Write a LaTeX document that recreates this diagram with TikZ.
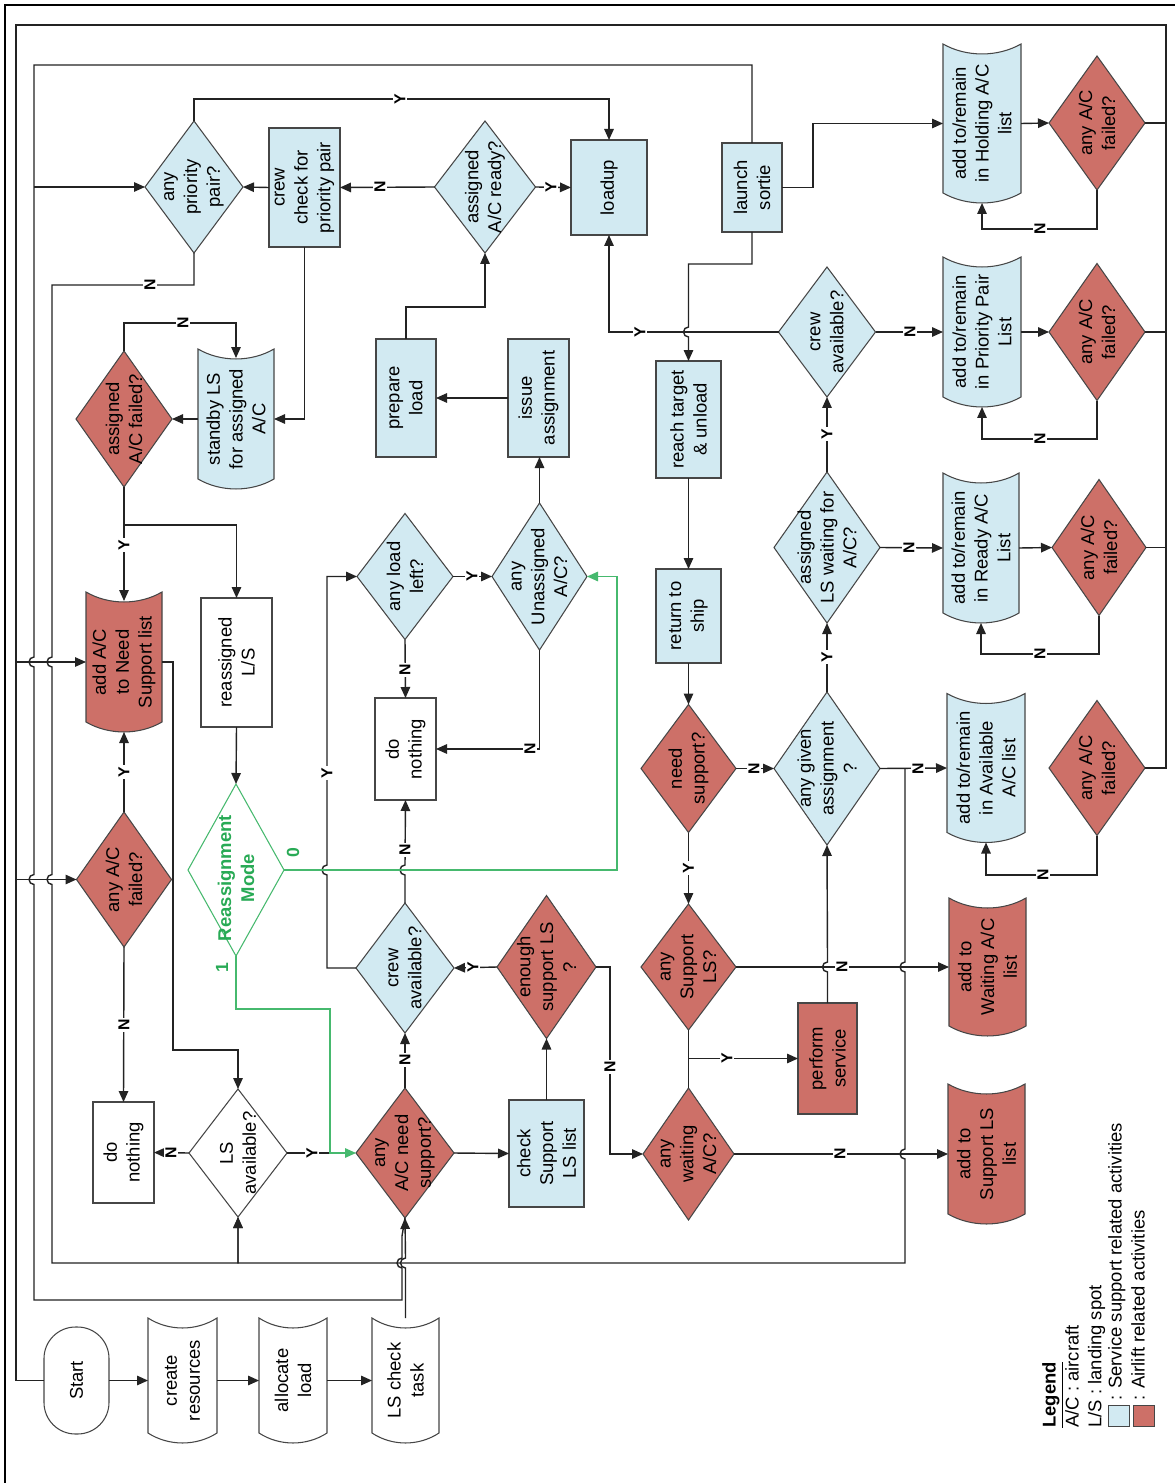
\documentclass[tikz,border=0pt]{standalone}
\usepackage{fontspec}
\setmainfont{Liberation Sans}
\usetikzlibrary{shapes.geometric,arrows.meta,calc}
\pgfdeclarelayer{bg}
\pgfsetlayers{bg,main}
\definecolor{blu}{RGB}{210,234,242}
\definecolor{redf}{RGB}{205,112,104}
\definecolor{shapec}{RGB}{70,70,70}
\definecolor{linec}{RGB}{35,35,35}
\definecolor{grnl}{RGB}{70,185,110}
\definecolor{grnt}{RGB}{40,170,85}
\newcommand\nfont{\fontsize{10.5}{13}\selectfont}
\newcommand\lfont{\fontsize{9}{10}\selectfont\bfseries}
\tikzset{
  sz/.style 2 args={minimum width=#1*0.02cm,minimum height=#2*0.02cm},
  base/.style={inner sep=0pt,outer sep=0pt,draw=shapec,line width=0.6pt},
  dia/.style={base,diamond},
  box/.style={base,rectangle},
  lst/.style={rectangle,inner sep=0pt,outer sep=0pt,draw=none},
  txt/.style={rotate=90,align=center,font=\nfont,inner sep=0pt},
  con/.style={draw=linec,line width=0.8pt},
  arr/.style={con,-{Triangle[length=2.2mm,width=1.9mm]}},
  grnarr/.style={draw=grnl,line width=0.8pt,-{Triangle[length=2.2mm,width=1.9mm]}},
  lab/.style={rotate=90,font=\lfont,fill=white,inner sep=1pt},
  glab/.style={rotate=90,font=\fontsize{10}{12}\selectfont\bfseries,text=grnt,inner sep=0pt},
}
\newcommand\Shp[6]{\node[#1,fill=#2,sz=#5] (#3) at (#4) {};\node[txt] (#3-t) at (#3) {#6};}
\newcommand\Lst[5]{\node[lst,sz=#4] (#2) at (#3) {};
 \begin{pgfonlayer}{bg}\path[draw=shapec,line width=0.6pt,fill=#1] (#2.north west) .. controls ($(#2.north west)!0.3!(#2.north east)+(0,13.3)$) and ($(#2.north west)!0.7!(#2.north east)+(0,13.3)$) .. (#2.north east) -- ($(#2.south east)+(0,-10)$) .. controls ($(#2.south east)!0.3!(#2.south west)+(0,3.3)$) and ($(#2.south east)!0.7!(#2.south west)+(0,3.3)$) .. ($(#2.south west)+(0,-10)$) -- cycle;\end{pgfonlayer}
 \node[txt] (#2-t) at (#2) {#5};}
\begin{document}
\begin{tikzpicture}[x=0.02cm,y=-0.02cm]
\useasboundingbox (0,0) rectangle (1175,1483);
\begin{pgfonlayer}{bg}
\fill[white] (0,0) rectangle (1175,1483);
\end{pgfonlayer}
\draw[black,line width=1.3pt] (5,1483) -- (5,5) -- (1175,5);

% ---- shapes ----
\Shp{dia}{blu}{pp}{194,187}{{98}{132}}{any\\priority\\pair?}
\Shp{box}{blu}{ccp}{304.5,187.5}{{71}{119}}{crew\\check for\\priority pair}
\Shp{dia}{blu}{acr}{485,187}{{101}{132}}{assigned\\A/C ready?}
\Shp{box}{blu}{loadup}{609,187.5}{{76}{95}}{loadup}
\Shp{box}{blu}{ls}{752,187.5}{{60}{89}}{launch\\sortie}
\Lst{blu}{hold}{982,123.5}{{78}{159}}{add to/remain\\in Holding A/C\\list}
\Shp{dia}{redf}{f1}{1097,123}{{96}{134}}{any A/C\\failed?}
\Shp{dia}{redf}{acf}{124,419}{{96}{136}}{assigned\\A/C failed?}
\Lst{blu}{stb}{236,419}{{76}{140}}{standby LS\\for assigned\\A/C}
\Shp{box}{blu}{prep}{406,398}{{60}{118}}{prepare\\load}
\Shp{box}{blu}{issue}{538.5,398}{{61}{118}}{issue\\assignment}
\Shp{box}{blu}{rtu}{688.5,419.5}{{65}{117}}{reach target\\\& unload}
\Shp{dia}{blu}{crew1}{827,332}{{97}{130}}{crew\\available?}
\Lst{blu}{pplist}{982,332}{{78}{150}}{add to/remain\\in Priority Pair\\List}
\Shp{dia}{redf}{f2}{1097,332}{{96}{137}}{any A/C\\failed?}
\Shp{dia}{blu}{ls2}{405,576.5}{{96}{126}}{any load\\left?}
\Shp{dia}{blu}{una}{539.5,576.5}{{95}{147}}{any\\Unassigned\\A/C?}
\Shp{box}{blu}{rts}{688.5,616}{{65}{94}}{return to\\ship}
\Shp{dia}{blu}{lsw}{827,547.5}{{106}{151}}{assigned\\LS waiting for\\A/C?}
\Lst{blu}{ready}{981,548}{{76}{150}}{add to/remain\\in Ready A/C\\List}
\Shp{dia}{redf}{f3}{1099,547.5}{{94}{136}}{any A/C\\failed?}
\Lst{redf}{addns}{124,662}{{76}{140}}{add A/C\\to Need\\Support list}
\Shp{box}{white}{reas}{236.5,662.5}{{71}{129}}{reassigned\\L/S}
\Shp{box}{white}{dn1}{405.5,749}{{61}{102}}{do\\nothing}
\Shp{dia}{redf}{ns}{688.5,768.5}{{95}{128}}{need\\support?}
\Shp{dia}{blu}{aga}{827,768.5}{{106}{153}}{any given\\assignment\\?}
\Lst{blu}{avail}{986,768}{{78}{149}}{add to/remain\\in Available\\A/C list}
\Shp{dia}{redf}{f4}{1097,768}{{96}{135}}{any A/C\\failed?}
\Shp{dia}{redf}{af}{124,879.5}{{95}{135}}{any A/C\\failed?}
\node[dia,draw=grnl,fill=white,sz={96}{172}] (rm) at (236,870) {};
\node[txt,text=grnt,font=\nfont\bfseries] (rm-t) at (236,878) {Reassignment\\Mode};
\Shp{dia}{blu}{ca2}{405,968}{{98}{130}}{crew\\available?}
\Shp{dia}{redf}{esl}{546.5,967}{{99}{143}}{enough\\support LS\\?}
\Shp{dia}{redf}{asl}{688.5,967}{{95}{126}}{any\\Support\\LS?}
\Lst{redf}{wait}{987.5,967}{{77}{138}}{add to\\Waiting A/C\\list}
\Shp{box}{redf}{perf}{827.5,1058.5}{{59}{111}}{perform\\service}
\Shp{box}{white}{dn2}{123.5,1152.5}{{61}{101}}{do\\nothing}
\Shp{dia}{white}{lsa}{238,1153}{{98}{128}}{LS\\available?}
\Shp{dia}{redf}{ans}{405,1153}{{98}{130}}{any\\A/C need\\support?}
\Shp{box}{blu}{csl}{546.5,1153.5}{{75}{107}}{check\\Support\\LS list}
\Shp{dia}{redf}{awa}{688.5,1154}{{91}{132}}{any\\waiting\\A/C?}
\Lst{redf}{asls}{986.5,1154}{{77}{140}}{add to\\Support LS\\list}
\node[box,fill=white,rounded corners=0.63cm,sz={65}{107}] (start) at (76.5,1380.5) {};
\node[txt] (start-t) at (start) {Start};
\Lst{white}{cres}{182.5,1380.5}{{69}{125}}{create\\resources}
\Lst{white}{aload}{293,1380.5}{{68}{125}}{allocate\\load}
\Lst{white}{lsct}{405.5,1380.5}{{67}{125}}{LS check\\task}

% ---- junction coordinates ----
\coordinate (jns) at (16,662);
\coordinate (jaf) at (16,879.5);
\coordinate (jpp) at (34,187);
\coordinate (jacf) at (124,525);
\coordinate (gj) at (330,1153);
\coordinate (jaga) at (905,768.5);
\coordinate (jperf) at (688.5,1058.5);

% ---- connectors ----
\draw[arr] (start.east) -- (cres.west);
\draw[arr] (cres.east) -- (aload.west);
\draw[arr] (aload.east) -- (lsct.west);
\draw[con] (f4.east) -- (1166,768) -- (1166,25) -- (16,25) -- (16,1380.5) -- (start.west);
\draw[con] (f1.east) -- (1166,123);
\draw[con] (f2.east) -- (1166,332);
\draw[con] (f3.east) -- (1166,547.5);
\draw[arr] (jns) -- (addns.west);
\draw[arr] (jaf) -- (af.west);
\draw[con] (ls.north) -- (752,65) -- (34,65) -- (34,657) arc[start angle=270,end angle=90,radius=5] -- (34,874.5) arc[start angle=270,end angle=90,radius=5] -- (34,1300) -- (402,1300) -- (402,1268) arc[start angle=90,end angle=270,radius=5] -- (402,1236) -- (ans.south);
\draw[arr] (jpp) -- (pp.west);
\draw[arr] (pp.south) -- (194,285) -- (52,285) -- (52,657) arc[start angle=270,end angle=90,radius=5] -- (52,874.5) arc[start angle=270,end angle=90,radius=5] -- (52,1263) -- (238,1263) -- (lsa.south);
\draw[arr] (ccp.west) -- (pp.east);
\draw[arr] (acr.west) -- (ccp.east);
\draw[arr] (pp.north) -- (194,99) -- (609,99) -- (loadup.north);
\draw[arr] (acr.east) -- (loadup.west);
\draw[arr] (prep.north) -- (406,307) -- (485,307) -- (acr.south);
\draw[arr] (issue.west) -- (prep.east);
\draw[arr] (una.north) -- (una.north |- issue.south);
\draw[arr] (ls2.east) -- (una.west);
\draw[arr] (ls2.south) -- (dn1.north);
\draw[arr] (una.south) |- (dn1.east);
\draw[arr] (ca2.north) -- (405,875) arc[start angle=90,end angle=270,radius=5] -- (dn1.south);
\draw[arr] (ca2.west) -- (327,968) -- (327,875) arc[start angle=90,end angle=270,radius=5] -- (327,576.5) -- (ls2.west);
\draw[arr] (esl.west) -- (ca2.east);
\draw[arr] (esl.east) -- (610,967) |- (awa.west);
\draw[arr] (csl.north) -- (esl.south);
\draw[arr] (ans.east) -- (csl.west);
\draw[arr] (ans.north) -- (ca2.south);
\draw[con] (lsa.east) -- (gj);
\draw[arr] (lsa.west) -- (dn2.east);
\draw[arr] (af.south) -- (dn2.north);
\draw[arr] (af.north) -- (addns.south);
\draw[arr] (acf.south) -- ($(addns.north)+(0,9)$);
\draw[arr] (jacf) -- (236.5,525) -- (reas.north);
\draw[arr] (addns.east) -- (173,662) -- (173,1050) -- (238,1050) -- (lsa.north);
\draw[arr] (reas.south) -- (rm.north);
\draw[grnarr] (rm.east) -- (617,870) -- (617,576.5) -- (una.east);
\draw[grnarr] (rm.south) -- (236,1009) -- (330,1009) -- (gj) -- (ans.west);
\draw[arr] (ns.east) -- (aga.west);
\draw[arr] (ns.south) -- (asl.north);
\draw[arr] (rts.south) -- (ns.north);
\draw[arr] (rtu.south) -- (rts.north);
\draw[arr] (ls.south) -- (752,264) -- (688.5,264) -- (688.5,327) arc[start angle=270,end angle=90,radius=5] -- (rtu.north);
\draw[arr] (crew1.west) -- (609,332) -- (loadup.south);
\draw[arr] (crew1.east) -- (pplist.west);
\draw[arr] (lsw.north) -- (crew1.south);
\draw[arr] (lsw.east) -- (ready.west);
\draw[arr] (aga.north) -- (lsw.south);
\draw[arr] (aga.east) -- (avail.west);
\draw[arr] (jaga) -- (905,962) arc[start angle=270,end angle=90,radius=5] -- (905,1149) arc[start angle=270,end angle=90,radius=5] -- (905,1263) -- (238,1263) -- (lsa.south);
\draw[arr] (lsct.north) -- (405.5,1268) arc[start angle=90,end angle=270,radius=5] -- (ans.south);
\draw[arr] (asl.east) -- (wait.west);
\draw[con] (asl.south) -- (awa.north);
\draw[arr] (jperf) -- (perf.west);
\draw[arr] (perf.north) -- (827.5,972) arc[start angle=90,end angle=270,radius=5] -- (aga.south);
\draw[arr] (awa.east) -- (asls.west);
\draw[arr] (f1.south) -- (1097,229) -- (982,229) -- (hold.south);
\draw[arr] (hold.east) -- (f1.west);
\draw[arr] (ls.east) -- (813,187.5) -- (813,123.5) -- (hold.west);
\draw[arr] (pplist.east) -- (f2.west);
\draw[arr] (f2.south) -- (1097,439) -- (982,439) -- (pplist.south);
\draw[arr] (ready.east) -- (f3.west);
\draw[arr] (f3.south) -- (1099,654) -- (981,654) -- (ready.south);
\draw[arr] (f4.south) -- (1097,875) -- (986,875) -- (avail.south);
\draw[arr] (ccp.south) -- (304.5,419) -- (stb.east);
\draw[arr] (stb.west) -- (acf.east);
\draw[arr] (acf.north) -- (124,323) -- (236,323) -- ($(stb.north)+(0,9)$);

% ---- labels ----
\node[lab] (n1) at (150,285) {N};
\node[lab] (n2) at (183,323) {N};
\node[lab] (n3) at (380,187) {N};
\node[lab] (n4) at (910,332) {N};
\node[lab] (n5) at (909,547.5) {N};
\node[lab] (n6) at (918,768.5) {N};
\node[lab] (n7) at (754,768.5) {N};
\node[lab] (n8) at (405,670) {N};
\node[lab] (n9) at (530,749) {N};
\node[lab] (n10) at (405,850) {N};
\node[lab] (n11) at (610,1067) {N};
\node[lab] (n12) at (842,967) {N};
\node[lab] (n13) at (405,1060) {N};
\node[lab] (n14) at (171,1153) {N};
\node[lab] (n15) at (124,1025) {N};
\node[lab] (n16) at (840,1154) {N};
\node[lab] (n17) at (1040,229) {N};
\node[lab] (n18) at (1040,439) {N};
\node[lab] (n19) at (1040,654) {N};
\node[lab] (n20) at (1043,875) {N};
\node[lab] (y1) at (400,99) {Y};
\node[lab] (y2) at (551,187) {Y};
\node[lab] (y3) at (640,332) {Y};
\node[lab] (y4) at (827,434) {Y};
\node[lab] (y5) at (827,657) {Y};
\node[lab] (y6) at (472,576.5) {Y};
\node[lab] (y7) at (124,545) {Y};
\node[lab] (y8) at (124,772) {Y};
\node[lab] (y9) at (327,773) {Y};
\node[lab] (y10) at (473,967) {Y};
\node[lab] (y11) at (688.5,868) {Y};
\node[lab] (y12) at (727,1058.5) {Y};
\node[lab] (y13) at (312,1153) {Y};
\node[glab] (g0) at (293,853) {0};
\node[glab] (g1) at (222,968) {1};

% ---- legend ----
\node[rotate=90,anchor=north west,align=left,font=\nfont,inner sep=0pt] (leg) at (1042,1428) {\underline{\textbf{Legend}}\\A/C : aircraft\\L/S : landing spot};
\node[box,fill=blu,sz={21}{21}] (legb) at (1119,1416) {};
\node[box,fill=redf,sz={21}{21}] (legr) at (1144,1416) {};
\node[rotate=90,anchor=north west,align=left,font=\nfont,inner sep=0pt] (legt) at (1108,1401) {: Service support related activities\\: Airlift related activities};
\end{tikzpicture}
\end{document}
